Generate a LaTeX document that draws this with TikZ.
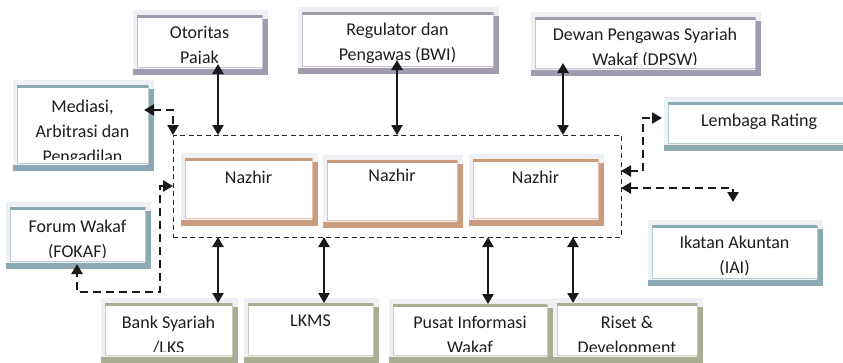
\documentclass[tikz,border=0pt]{standalone}
\usepackage{fontspec}
\setmainfont{Carlito}
\usetikzlibrary{arrows.meta}
\definecolor{outerc}{HTML}{EEF0F3}
\definecolor{purp}{HTML}{A29AAE}
\definecolor{bluec}{HTML}{8CA8B2}
\definecolor{olive}{HTML}{A8AE92}
\definecolor{tanc}{HTML}{CB9D7D}
\definecolor{txtc}{HTML}{1E1E1E}
\tikzset{
  txt/.style={anchor=north, inner sep=0pt, align=center, font=\fontsize{18}{25}\selectfont, text=txtc},
  arr/.style={line width=2.8pt, draw=black!90, {Triangle[width=11pt,length=10pt]}-{Triangle[width=11pt,length=10pt]}},
  darr/.style={arr, line width=2.8pt, dash pattern=on 8pt off 5pt},
  cont/.style={draw=black!85, line width=1pt, dash pattern=on 5pt off 3.5pt, inner sep=0pt, outer sep=0pt}
}
% name x1 y1 x2 y2 colour text baseline
\newcommand\bx[8]{%
  \fill[outerc] (#2-4,#3-5) rectangle (#4+6,#5+8);
  \fill[#6] (#4,#3+4) rectangle (#4+6,#5+8);
  \fill[#6] (#2-4,#5+2) rectangle (#4+6,#5+8);
  \pgfmathsetmacro\bw{#4-#2}\pgfmathsetmacro\bh{#5-#3}
  \node[fill=white, draw=#6!60, line width=0.6pt, inner sep=0pt, outer sep=0pt,
        minimum width=\bw pt, minimum height=\bh pt] (#1) at ({(#2+#4)/2},{(#3+#5)/2}) {};
  \draw[#6, line width=3pt] (#2,#3+1.5) -- (#4,#3+1.5);
  \begin{scope}
    \clip (#2,#3) rectangle (#4,#5-4);
    \node[txt] at ({(#2+#4)/2},#8-12.5) {#7};
  \end{scope}}
\begin{document}
\begin{tikzpicture}[x=1pt,y=-1pt]
\useasboundingbox (0,0) rectangle (843,362);
\clip (0,0) rectangle (843,362);
\bx{oto}{137}{15}{262}{67}{purp}{Otoritas\\Pajak}{38}
\bx{reg}{302}{12}{493}{66}{purp}{Regulator dan\\Pengawas (BWI)}{35}
\bx{dew}{535}{17}{755}{68}{purp}{Dewan Pengawas Syariah\\Wakaf (DPSW)}{40}
\bx{med}{17}{85}{148}{163}{bluec}{Mediasi,\\Arbitrasi dan\\Pengadilan}{112}
\bx{lem}{668}{102}{850}{143}{bluec}{Lembaga Rating}{126}
\bx{forum}{10}{207}{145}{261}{bluec}{Forum Wakaf\\(FOKAF)}{232}
\bx{ika}{652}{225}{817}{278}{bluec}{Ikatan Akuntan\\(IAI)}{248}
\bx{bank}{105}{303}{232}{355}{olive}{Bank Syariah\\/LKS}{328}
\bx{lkms}{248}{303}{373}{355}{olive}{LKMS}{327}
\bx{pusat}{393}{304}{547}{355}{olive}{Pusat Informasi\\Wakaf}{328}
\bx{riset}{557}{303}{697}{355}{olive}{Riset \&\\Development}{328}
\bx{naz1}{185}{158}{312}{218}{tanc}{Nazhir}{183}
\bx{naz2}{327}{160}{457}{220}{tanc}{Nazhir}{181}
\bx{naz3}{473}{159}{598}{218}{tanc}{Nazhir}{183}
\node[cont, minimum width=448pt, minimum height=102pt] (cont) at (397,186) {};
% solid arrows
\draw[arr, shorten <=-3pt] (218,0 |- oto.south) -- (218,0 |- cont.north);
\draw[arr, shorten <=-6pt] (397,0 |- reg.south) -- (397,0 |- cont.north);
\draw[arr, shorten <=-5pt] (563,0 |- dew.south) -- (563,0 |- cont.north);
\draw[arr] (218,0 |- cont.south) -- (218,0 |- bank.north);
\draw[arr] (324,0 |- cont.south) -- (324,0 |- lkms.north);
\draw[arr] (488,0 |- cont.south) -- (488,0 |- pusat.north);
\draw[arr] (573,0 |- cont.south) -- (573,0 |- riset.north);
% dashed arrows
\coordinate (m1) at (173,110);
\draw[darr, shorten <=-4pt] (m1 -| med.east) -- (m1) -- (cont.north west);
\coordinate (f1) at (160,186);
\coordinate (f2) at (160,292);
\coordinate (f3) at (77,292);
\draw[darr, shorten >=3pt] (f1 -| cont.west) -- (f1) -- (f2) -- (f3) -- (f3 |- forum.south);
\coordinate (l1) at (643,171);
\coordinate (l2) at (643,118);
\draw[darr, shorten >=6pt] (l1 -| cont.east) -- (l1) -- (l2) -- (l2 -| lem.west);
\coordinate (i1) at (733,188);
\coordinate (i2) at (733,202);
\draw[darr] (i1 -| cont.east) -- (i1) -- (i2);
\end{tikzpicture}
\end{document}
